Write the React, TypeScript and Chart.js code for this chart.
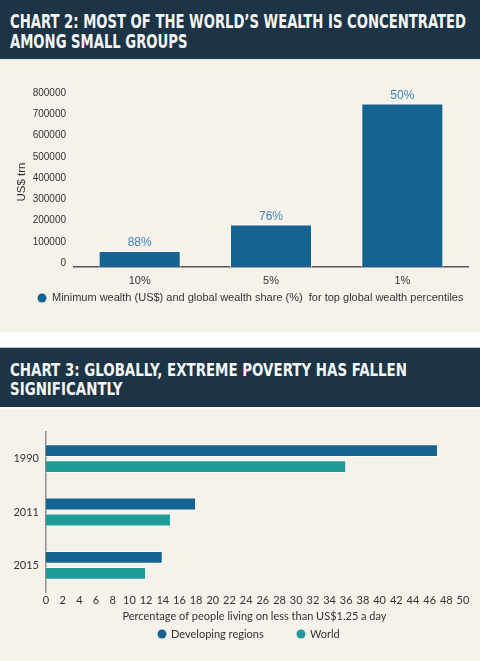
import React, { useEffect, useLayoutEffect, useRef } from 'react';
import { Chart, registerables } from 'chart.js';

Chart.register(...registerables);

// ---- Chart 2: wealth thresholds for the top percentiles ----
const wealthPercentiles = ['10%', '5%', '1%'];
const minimumWealth = [75000, 200000, 770000];
const wealthShare = [88, 76, 50];
const wealthAxisMax = 800000;
const wealthAxisStep = 100000;
const wealthLegend = 'Minimum wealth (US$) and global wealth share (%)  for top global wealth percentiles';

// ---- Chart 3: share of people below US$1.25 a day ----
const povertyYears = ['1990', '2011', '2015'];
const developingRegions = [47, 18, 14];
const worldPoverty = [36, 15, 12];
const povertyAxisMax = 50;
const povertyAxisStep = 2;

const NAVY = '#1d3446';
const BLUE = '#17638f';
const TEAL = '#1e9b96';
const CREAM = '#f5f2ec';
const INK = '#333333';

const HEAD_FONT = "'DejaVu Sans Condensed', 'DejaVu Sans', sans-serif";
const SANS = "'Liberation Sans', Arial, sans-serif";
const ROUND = "Lato, 'Liberation Sans', sans-serif";

// Round-dot legend drawn at fixed spots under each chart.
const dotLegend = {
  id: 'dotLegend',
  afterDraw(chart: any, _args: any, opts: any) {
    if (!opts || !opts.xs) return;
    const { ctx } = chart;
    ctx.save();
    ctx.font = opts.font;
    ctx.textBaseline = 'middle';
    ctx.textAlign = 'left';
    chart.data.datasets.forEach((ds: any, i: number) => {
      const x = opts.xs[i];
      ctx.fillStyle = ds.backgroundColor;
      ctx.beginPath();
      ctx.arc(x, opts.y, opts.radius, 0, Math.PI * 2);
      ctx.fill();
      ctx.fillStyle = opts.color;
      ctx.fillText(ds.label, x + opts.gap, opts.y);
    });
    ctx.restore();
  },
};

// Percent share written above each bar.
const shareLabels = {
  id: 'shareLabels',
  afterDatasetsDraw(chart: any, _args: any, opts: any) {
    if (!opts || !opts.values) return;
    const { ctx } = chart;
    const meta = chart.getDatasetMeta(0);
    ctx.save();
    ctx.font = opts.font;
    ctx.fillStyle = opts.color;
    ctx.textAlign = 'center';
    ctx.textBaseline = 'middle';
    meta.data.forEach((bar: any, i: number) => {
      ctx.fillText(`${opts.values[i]}%`, bar.x, bar.y - opts.offset);
    });
    ctx.restore();
  },
};

function Banner(props: { top: number; height: number; lines: string[]; fontSize: number; lineHeight: number; textTop: number; fitWidth: number }) {
  const ref = useRef<HTMLDivElement>(null);
  useLayoutEffect(() => {
    const fit = () => {
      const el = ref.current;
      if (!el) return;
      el.style.transform = 'none';
      const first = el.firstElementChild as HTMLElement;
      const w = first.getBoundingClientRect().width;
      if (w > 0) el.style.transform = `scaleX(${props.fitWidth / w})`;
    };
    fit();
    if ((document as any).fonts) (document as any).fonts.ready.then(fit);
  }, []);
  return (
    <div style={{ position: 'absolute', left: 0, top: props.top, width: 480, height: props.height, background: NAVY, overflow: 'hidden' }}>
      <div
        ref={ref}
        style={{
          position: 'absolute', left: 10, top: props.textTop, transformOrigin: '0 0',
          fontFamily: HEAD_FONT, fontWeight: 'bold', fontSize: props.fontSize,
          lineHeight: `${props.lineHeight}px`, color: '#f4f6f7', whiteSpace: 'nowrap',
        }}
      >
        {props.lines.map((l) => (
          <div key={l} style={{ width: 'max-content' }}>{l}</div>
        ))}
      </div>
    </div>
  );
}

function WealthChart() {
  const ref = useRef<HTMLCanvasElement>(null);
  useEffect(() => {
    const chart = new Chart(ref.current as HTMLCanvasElement, {
      type: 'bar',
      data: {
        labels: wealthPercentiles,
        datasets: [{
          label: wealthLegend,
          data: minimumWealth,
          backgroundColor: BLUE,
          borderColor: 'rgba(255,255,255,0.85)',
          borderWidth: 1,
          categoryPercentage: 1,
          barPercentage: 0.625,
        }],
      },
      plugins: [dotLegend, shareLabels],
      options: {
        responsive: false,
        animation: false,
        layout: { padding: { top: 37, right: 12, bottom: 0, left: 0 } },
        plugins: {
          legend: { display: false },
          tooltip: { enabled: false },
          dotLegend: { xs: [42], y: 238, radius: 4.5, gap: 10, font: `11px ${SANS}`, color: INK },
          shareLabels: { values: wealthShare, offset: 8, font: `12px ${SANS}`, color: '#3f84b8' },
        } as any,
        scales: {
          x: {
            grid: { display: false, drawTicks: false },
            border: { display: true, color: '#555555', width: 1.5 },
            ticks: { padding: 7, color: INK, font: { family: SANS, size: 11 } },
            afterFit: (s: any) => { s.height = 65; },
          },
          y: {
            min: 0,
            max: wealthAxisMax,
            grid: { display: false, drawTicks: false },
            border: { display: false },
            ticks: {
              stepSize: wealthAxisStep, padding: 8, labelOffset: -4, color: INK,
              font: { family: SANS, size: 10 },
              callback: (v: any) => String(v),
            },
            title: { display: true, text: 'US$ trn', color: INK, font: { family: SANS, size: 11.5 }, padding: { top: 15, bottom: 0 } },
            afterFit: (s: any) => { s.width = 74; },
          },
        },
      } as any,
    });
    return () => chart.destroy();
  }, []);
  return <canvas ref={ref} width={480} height={272} style={{ position: 'absolute', left: 0, top: 60, width: 480, height: 272 }} />;
}

function PovertyChart() {
  const ref = useRef<HTMLCanvasElement>(null);
  useEffect(() => {
    const chart = new Chart(ref.current as HTMLCanvasElement, {
      type: 'bar',
      data: {
        labels: povertyYears,
        datasets: [
          { label: 'Developing regions', data: developingRegions, backgroundColor: BLUE, borderColor: 'rgba(255,255,255,0.8)', borderWidth: 1, categoryPercentage: 0.6, barPercentage: 0.8 },
          { label: 'World', data: worldPoverty, backgroundColor: TEAL, borderColor: 'rgba(255,255,255,0.8)', borderWidth: 1, categoryPercentage: 0.6, barPercentage: 0.8 },
        ],
      },
      plugins: [dotLegend],
      options: {
        indexAxis: 'y',
        responsive: false,
        animation: false,
        layout: { padding: { top: 23, right: 17, bottom: 0, left: 0 } },
        plugins: {
          legend: { display: false },
          tooltip: { enabled: false },
          dotLegend: { xs: [162, 301], y: 225, radius: 4.5, gap: 9, font: `11px ${ROUND}`, color: INK },
        } as any,
        scales: {
          x: {
            min: 0,
            max: povertyAxisMax,
            grid: { display: false, drawTicks: false },
            border: { display: false },
            ticks: { stepSize: povertyAxisStep, autoSkip: false, maxRotation: 0, padding: 2, color: INK, font: { family: ROUND, size: 11 } },
            title: { display: true, text: 'Percentage of people living on less than US$1.25 a day', color: INK, font: { family: ROUND, size: 11 }, padding: { top: 0, bottom: 37.7 } },
            afterFit: (s: any) => { s.height = 69; },
          },
          y: {
            grid: { display: false, drawTicks: false },
            border: { display: true, color: '#8f8f8f', width: 1.5 },
            ticks: { padding: 7, color: INK, font: { family: ROUND, size: 11 } },
            afterFit: (s: any) => { s.width = 46; },
          },
        },
      } as any,
    });
    return () => chart.destroy();
  }, []);
  return <canvas ref={ref} width={480} height={252} style={{ position: 'absolute', left: 0, top: 409, width: 480, height: 252 }} />;
}

export default function App() {
  return (
    <div style={{ position: 'absolute', left: 0, top: 0, width: 480, height: 661, background: CREAM, overflow: 'hidden' }}>
      <Banner
        top={0} height={58} fontSize={19} lineHeight={20} textTop={11} fitWidth={456}
        lines={['CHART 2: MOST OF THE WORLD\u2019S WEALTH IS CONCENTRATED', 'AMONG SMALL GROUPS']}
      />
      <div style={{ position: 'absolute', left: 0, top: 58, width: 480, height: 1, background: '#2b3f4f' }} />
      <div style={{ position: 'absolute', left: 0, top: 59, width: 480, height: 1, background: '#dfe4e6' }} />
      <WealthChart />
      <div style={{ position: 'absolute', left: 0, top: 332, width: 480, height: 15, background: '#fdfdfc' }} />
      <div style={{ position: 'absolute', left: 0, top: 347, width: 480, height: 1, background: '#b9c5cd' }} />
      <Banner
        top={348} height={59} fontSize={18} lineHeight={18.5} textTop={13} fitWidth={397}
        lines={['CHART 3: GLOBALLY, EXTREME POVERTY HAS FALLEN', 'SIGNIFICANTLY']}
      />
      <div style={{ position: 'absolute', left: 0, top: 407, width: 480, height: 2, background: '#fbfbf9' }} />
      <PovertyChart />
    </div>
  );
}
